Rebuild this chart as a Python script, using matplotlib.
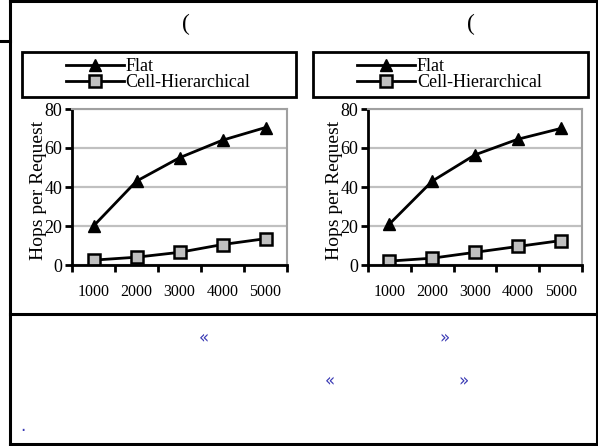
import matplotlib
matplotlib.use("Agg")
import matplotlib.pyplot as plt
from matplotlib.lines import Line2D
from matplotlib.patches import Rectangle

nodes = ["1000", "2000", "3000", "4000", "5000"]
flat_a = [20, 43, 55, 64, 70.5]
cell_a = [2.5, 4, 6.5, 10.5, 13.5]
flat_b = [21, 43, 56.5, 64.5, 70]
cell_b = [2, 3.5, 6.5, 9.5, 12.5]
yticks = [0, 20, 40, 60, 80]

SERIF = "Liberation Serif"
BLUE = "#3a3ab4"
W, H = 598, 446

fig = plt.figure(figsize=(5.98, 4.46), dpi=100)


def fx(px):
    return px / W


def fy(py):
    return 1 - py / H


def panel(left, right, leg_left, leg_right, flat, cell):
    ax = fig.add_axes([fx(left), fy(265), fx(right - left), fy(109) - fy(265)])
    xs = list(range(1, len(nodes) + 1))
    ax.plot(xs, flat, color="black", lw=2, marker="^", ms=9, mfc="black", mec="black")
    ax.plot(xs, cell, color="black", lw=2, marker="s", ms=9, mfc="#c0c0c0", mec="black", mew=1.8)
    ax.set_xlim(0.5, len(nodes) + 0.5)
    ax.set_ylim(0, 80)
    ax.set_yticks(yticks)
    ax.set_xticks(xs)
    ax.set_xticklabels(nodes)
    ax.set_xticks([x + 0.5 for x in range(len(nodes) + 1)], minor=True)
    ax.tick_params(axis="x", which="major", length=0, pad=14)
    ax.tick_params(axis="x", which="minor", length=5, width=2, direction="out")
    ax.tick_params(axis="y", length=5, width=2, direction="out", pad=2)
    for lab in ax.get_xticklabels() + ax.get_yticklabels():
        lab.set_fontfamily(SERIF)
    for lab in ax.get_xticklabels():
        lab.set_fontsize(11.5)
    for lab in ax.get_yticklabels():
        lab.set_fontsize(13)
    ax.grid(axis="y", color="#c0c0c0", lw=1.6)
    ax.set_axisbelow(True)
    for s in ["top", "right"]:
        ax.spines[s].set_color("#a0a0a0")
        ax.spines[s].set_linewidth(1.5)
    for s in ["left", "bottom"]:
        ax.spines[s].set_color("black")
        ax.spines[s].set_linewidth(2)
    ax.set_ylabel("Hops per Request", fontsize=14, fontfamily=SERIF)
    ax.yaxis.set_label_coords(-25 / (right - left), 0.48)

    # legend box
    fig.add_artist(Rectangle((fx(leg_left), fy(97)), fx(leg_right - leg_left), fy(52) - fy(97),
                             transform=fig.transFigure, fill=False, ec="black", lw=2))
    handles = [
        Line2D([], [], color="black", lw=2, marker="^", ms=8, mfc="black"),
        Line2D([], [], color="black", lw=2, marker="s", ms=8, mfc="#c0c0c0", mec="black", mew=1.8),
    ]
    fig.legend(handles, ["Flat", "Cell-Hierarchical"], loc="center",
               bbox_to_anchor=(fx((leg_left + leg_right) / 2 - 1), fy(74.5)),
               frameon=False, handlelength=3.2, handletextpad=0.1, labelspacing=-0.05,
               borderpad=0, prop={"family": SERIF, "size": 13})
    return ax


panel(72, 287, 22, 296, flat_a, cell_a)
panel(368, 582, 313, 588, flat_b, cell_b)

# page frame lines
frame = [
    ((10, 598), (0.8, 0.8)),
    ((10, 10), (0, 446)),
    ((0, 10), (41, 41)),
    ((596.5, 596.5), (0, 446)),
    ((10, 598), (314, 314)),
    ((10, 598), (443.5, 443.5)),
]
for (x0, x1), (y0, y1) in frame:
    fig.add_artist(Line2D([fx(x0), fx(x1)], [fy(y0), fy(y1)], transform=fig.transFigure,
                          color="black", lw=2.2))

fig.text(fx(186), fy(24), "(", fontsize=17, fontfamily=SERIF, ha="center", va="center")
fig.text(fx(471), fy(24), "(", fontsize=17, fontfamily=SERIF, ha="center", va="center")

marks = [(204, 338, "«"), (445, 338, "»"), (330, 381, "«"), (463, 381, "»"), (23, 426, ".")]
for x, y, s in marks:
    fig.text(fx(x), fy(y), s, fontsize=12, color=BLUE, ha="center", va="center")

fig.savefig("out.png", dpi=100)
